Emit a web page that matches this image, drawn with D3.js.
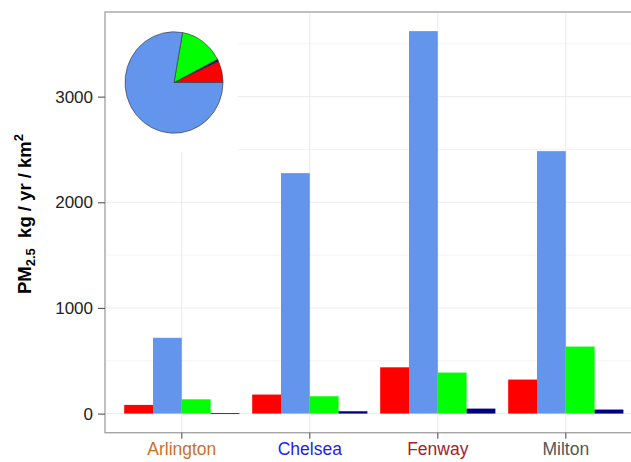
<!DOCTYPE html>
<html>
<head>
<meta charset="utf-8">
<script src="https://cdn.jsdelivr.net/npm/d3@7"></script>
<style>
  html, body { margin: 0; padding: 0; background: #fff; }
  svg { display: block; font-family: "Liberation Sans", Arial, sans-serif; }
</style>
</head>
<body>
<svg id="chart" width="631" height="462"></svg>
<script>
// Neighbourhoods on the x axis and the colour each label is printed in
const sites = ["Arlington", "Chelsea", "Fenway", "Milton"];
const siteColors = ["#cd7128", "#1f1fe6", "#a5222a", "#555555"];

// Emission sources, in dodge order, with their fill colours
const sources = ["red", "blue", "green", "navy"];
const sourceColors = ["#ff0000", "#6495ed", "#00ff00", "#000080"];

// PM2.5 emission density per source (kg / yr / km2), one value per site
const redValues   = [82, 180, 438, 322];
const blueValues  = [717, 2276, 3620, 2484];
const greenValues = [135, 164, 388, 634];
const navyValues  = [3, 22, 47, 38];

// Inset pie: overall share of each source (%), drawn counter-clockwise from 3 o'clock
const pieSources = ["red", "navy", "green", "blue"];
const pieShares  = [6.9, 0.7, 14.6, 77.8];
const pieColors  = ["#ff0000", "#000080", "#00ff00", "#6495ed"];

const yTicks = [0, 1000, 2000, 3000];
const yMinor = [500, 1500, 2500, 3500];

const seriesValues = { red: redValues, blue: blueValues, green: greenValues, navy: navyValues };
const rows = [];
sites.forEach((s, i) => sources.forEach((k, j) => rows.push({ site: s, source: k, value: seriesValues[k][i], color: sourceColors[j] })));

const svg = d3.select("#chart");
const panel = { left: 105, top: 12, right: 642.6, bottom: 432.7 };

const yMax = d3.max(rows, d => d.value);
const pad = yMax * 0.05;
const y = d3.scaleLinear().domain([-pad, yMax + pad]).range([panel.bottom, panel.top]);

const x = d3.scaleBand().domain(sites).range([panel.left, panel.right])
  .paddingInner(0.1).paddingOuter(0.15);
const xs = d3.scaleBand().domain(sources).range([0, x.bandwidth()]);
const xCenter = s => x(s) + x.bandwidth() / 2;

// Panel background and grid
svg.append("rect").attr("x", panel.left).attr("y", panel.top)
  .attr("width", panel.right - panel.left).attr("height", panel.bottom - panel.top).attr("fill", "#fff");

svg.append("g").selectAll("line").data(yMinor).join("line")
  .attr("x1", panel.left).attr("x2", panel.right)
  .attr("y1", d => y(d)).attr("y2", d => y(d))
  .attr("stroke", "#f4f4f4").attr("stroke-width", 1);
svg.append("g").selectAll("line").data(yTicks).join("line")
  .attr("x1", panel.left).attr("x2", panel.right)
  .attr("y1", d => y(d)).attr("y2", d => y(d))
  .attr("stroke", "#ececec").attr("stroke-width", 1);
svg.append("g").selectAll("line").data(sites).join("line")
  .attr("x1", d => xCenter(d)).attr("x2", d => xCenter(d))
  .attr("y1", panel.top).attr("y2", panel.bottom)
  .attr("stroke", "#ececec").attr("stroke-width", 1);

// Bars
svg.append("g").selectAll("rect").data(rows).join("rect")
  .attr("x", d => x(d.site) + xs(d.source))
  .attr("width", xs.bandwidth())
  .attr("y", d => Math.min(y(d.value), y(0)))
  .attr("height", d => Math.max(Math.abs(y(0) - y(d.value)), 0.8))
  .attr("fill", d => d.color);

// Inset with the overall source split
const inset = { x0: panel.left + 1, y0: panel.top + 1, x1: 238, y1: 152 };
svg.append("rect").attr("x", inset.x0).attr("y", inset.y0)
  .attr("width", inset.x1 - inset.x0).attr("height", inset.y1 - inset.y0).attr("fill", "#fff");

const pieData = pieSources.map((k, i) => ({ key: k, value: pieShares[i], color: pieColors[i] }));
const pie = d3.pie().value(d => d.value).sort(null)
  .startAngle(Math.PI / 2).endAngle(Math.PI / 2 - 2 * Math.PI);
const arc = d3.arc().innerRadius(0).outerRadius(49);
svg.append("g").attr("transform", "translate(174,82.5) scale(1,1.035)")
  .selectAll("path").data(pie(pieData)).join("path")
  .attr("d", arc).attr("fill", d => d.data.color)
  .attr("stroke", "#333").attr("stroke-width", 0.6);

// Panel border
svg.append("rect").attr("x", panel.left).attr("y", panel.top)
  .attr("width", panel.right - panel.left).attr("height", panel.bottom - panel.top)
  .attr("fill", "none").attr("stroke", "#a6a6a6").attr("stroke-width", 1.4);

// Y axis
const yAxis = svg.append("g").attr("transform", `translate(${panel.left},0)`)
  .call(d3.axisLeft(y).tickValues(yTicks).tickFormat(d3.format("d")).tickSize(7).tickPadding(5));
yAxis.select(".domain").remove();
yAxis.selectAll(".tick line").attr("stroke", "#555").attr("stroke-width", 1.1);
yAxis.selectAll(".tick text").attr("fill", "#222").attr("font-size", 17)
  .attr("font-family", "Liberation Sans, Arial, sans-serif");

// X axis
const xAxis = svg.append("g").attr("transform", `translate(0,${panel.bottom})`)
  .call(d3.axisBottom(x).tickSize(6).tickPadding(4));
xAxis.select(".domain").remove();
xAxis.selectAll(".tick line").attr("stroke", "#555").attr("stroke-width", 1.1);
xAxis.selectAll(".tick text").attr("font-size", 17.5)
  .attr("font-family", "Liberation Sans, Arial, sans-serif")
  .attr("fill", (d, i) => siteColors[i]);

// Y axis title: PM2.5  kg / yr / km2
const title = svg.append("text")
  .attr("transform", "translate(30.5,214) rotate(-90)")
  .attr("text-anchor", "middle").attr("font-weight", "bold")
  .attr("font-size", 18.5).attr("fill", "#000");
title.append("tspan").text("PM");
title.append("tspan").attr("font-size", 13).attr("dy", 4).text("2.5");
title.append("tspan").attr("dy", -4).text("\u00a0 kg / yr / km");
title.append("tspan").attr("font-size", 13).attr("dy", -8).text("2");
</script>
</body>
</html>
